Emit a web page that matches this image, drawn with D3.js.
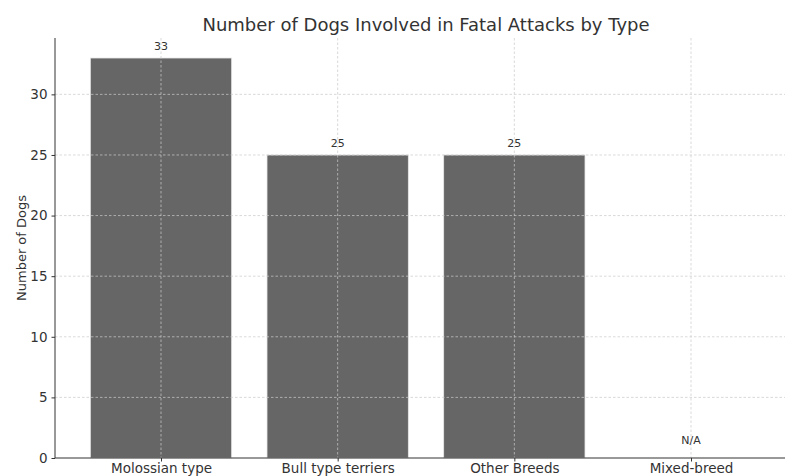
<!DOCTYPE html>
<html>
<head>
<meta charset="utf-8">
<script src="https://cdn.jsdelivr.net/npm/d3@7"></script>
<style>
  html, body { margin: 0; padding: 0; background: #fff; }
  svg { display: block; }
  text { font-family: "DejaVu Sans", sans-serif; fill: #333; }
</style>
</head>
<body>
<svg id="chart" width="785" height="476"></svg>
<script>
// Dogs involved in fatal attacks, by breed type
const categories = ["Molossian type", "Bull type terriers", "Other Breeds", "Mixed-breed"];
const dogCounts = [33, 25, 25, null];   // null = no figure available
const valueLabels = ["33", "25", "25", "N/A"];
const yTicks = [0, 5, 10, 15, 20, 25, 30];

const W = 785, H = 476;
const margin = { left: 55, top: 38, bottom: 18 };
const plotRight = 797;   // the plot area runs slightly past the right edge
const plotBottom = H - margin.bottom;

const svg = d3.select("#chart");

// band-like positions: index domain with matplotlib-style padding
const x = d3.scaleLinear().domain([-0.6, categories.length - 0.4]).range([margin.left, plotRight]);
const barWidth = x(0.8) - x(0);
const y = d3.scaleLinear().domain([0, 34.65]).range([plotBottom, margin.top]);

// bars
svg.append("g").selectAll("rect")
  .data(categories.map((c, i) => ({ c, i, v: dogCounts[i] })).filter(d => d.v != null))
  .join("rect")
  .attr("x", d => x(d.i) - barWidth / 2)
  .attr("y", d => y(d.v))
  .attr("width", barWidth)
  .attr("height", d => y(0) - y(d.v))
  .attr("fill", "#666666")
  .attr("stroke", "#e8e8e8")
  .attr("stroke-width", 0.8);

// dashed grid, drawn above the bars
const grid = svg.append("g").attr("stroke", "#cccccc").attr("stroke-width", 0.8)
  .attr("stroke-dasharray", "2.5,2").attr("opacity", 0.9);
grid.selectAll(".gy").data(yTicks.filter(t => t > 0)).join("line")
  .attr("x1", margin.left).attr("x2", W)
  .attr("y1", d => y(d)).attr("y2", d => y(d));
grid.selectAll(".gx").data(categories.map((c, i) => i)).join("line")
  .attr("x1", d => x(d)).attr("x2", d => x(d))
  .attr("y1", margin.top).attr("y2", plotBottom);

// axes
const yAxis = svg.append("g").attr("transform", `translate(${margin.left},0)`)
  .call(d3.axisLeft(y).tickValues(yTicks).tickSize(3.5).tickPadding(4));
yAxis.select(".domain").attr("stroke", "#333").attr("d", `M0,${margin.top}V${plotBottom}`);
yAxis.selectAll(".tick line").attr("stroke", "#333");
yAxis.selectAll(".tick text").attr("font-size", 13.5).attr("fill", "#333")
  .attr("font-family", "DejaVu Sans, sans-serif");

const xAxis = svg.append("g").attr("transform", `translate(0,${plotBottom})`)
  .call(d3.axisBottom(x).tickValues(d3.range(categories.length))
    .tickFormat(i => categories[i]).tickSize(3.5).tickPadding(2));
xAxis.select(".domain").attr("stroke", "#333").attr("d", `M${margin.left},0H${W}`);
xAxis.selectAll(".tick line").attr("stroke", "#333");
xAxis.selectAll(".tick text").attr("font-size", 13.5).attr("fill", "#333")
  .attr("font-family", "DejaVu Sans, sans-serif");

// value labels above bars
svg.append("g").selectAll("text")
  .data(categories.map((c, i) => ({ i, v: dogCounts[i], t: valueLabels[i] })))
  .join("text")
  .attr("x", d => x(d.i))
  .attr("y", d => y(d.v == null ? 0.5 : d.v) - 8)
  .attr("text-anchor", "middle")
  .attr("font-size", 11)
  .attr("fill", "#444")
  .text(d => d.t);

// title
svg.append("text")
  .attr("x", (margin.left + plotRight) / 2)
  .attr("y", 31)
  .attr("text-anchor", "middle")
  .attr("font-size", 18)
  .attr("fill", "#333")
  .text("Number of Dogs Involved in Fatal Attacks by Type");

// y-axis title
svg.append("text")
  .attr("transform", `translate(26,${(margin.top + plotBottom) / 2}) rotate(-90)`)
  .attr("text-anchor", "middle")
  .attr("font-size", 13)
  .attr("fill", "#333")
  .text("Number of Dogs");
</script>
</body>
</html>
